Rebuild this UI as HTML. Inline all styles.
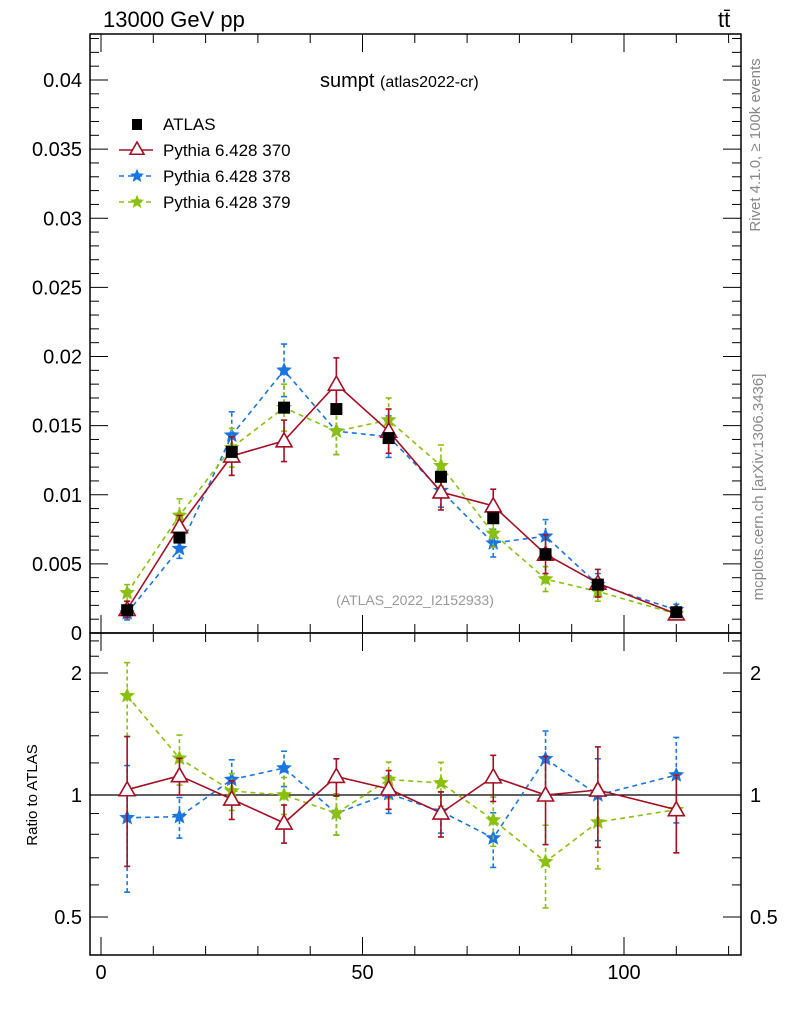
<!DOCTYPE html>
<html><head><meta charset="utf-8"><style>
body{margin:0;background:#fff}
svg text{font-family:"Liberation Sans",sans-serif}
</style></head><body>
<svg id="chart" width="786" height="1024" xmlns="http://www.w3.org/2000/svg">
<g id="axes"></g>
<g id="marks"></g>
<text x="103" y="27" font-size="22">13000 GeV pp</text>
<text x="718" y="27" font-size="22">tt̄</text>
<text x="320" y="87" font-size="20">sumpt <tspan font-size="16">(atlas2022-cr)</tspan></text>
<text x="415" y="605" font-size="14" fill="#999" text-anchor="middle">(ATLAS_2022_I2152933)</text>
<text transform="translate(760,145) rotate(-90)" font-size="15" fill="#888" text-anchor="middle">Rivet 4.1.0, ≥ 100k events</text>
<text transform="translate(763,487) rotate(-90)" font-size="15" fill="#888" text-anchor="middle">mcplots.cern.ch [arXiv:1306.3436]</text>
<text transform="translate(37,795) rotate(-90)" font-size="15" text-anchor="middle">Ratio to ATLAS</text>
<g id="legend"></g>
</svg>
<script>
const xs=[5,15,25,35,45,55,65,75,85,95,110];
const atlas=[0.00165,0.0069,0.0131,0.0163,0.0162,0.0141,0.0113,0.0083,0.0057,0.0035,0.0015];
const py370=[0.0017,0.0077,0.0128,0.0139,0.0180,0.0146,0.0102,0.0092,0.0057,0.0036,0.00138];
const py370err=[0.0006,0.0008,0.0014,0.0015,0.0019,0.0016,0.0013,0.0012,0.0014,0.0010,0.0003];
const py378=[0.00145,0.0061,0.0143,0.0190,0.0146,0.0142,0.0103,0.0065,0.0070,0.0035,0.00168];
const py378err=[0.0005,0.0007,0.0017,0.0019,0.0017,0.0015,0.0012,0.0010,0.0012,0.0008,0.0004];
const py379=[0.0029,0.0085,0.0134,0.0163,0.0146,0.0154,0.0121,0.0072,0.0039,0.0030,0.00138];
const py379err=[0.0006,0.0012,0.0014,0.0017,0.0017,0.0016,0.0015,0.0010,0.0009,0.0007,0.0003];
const yTicks=["0","0.005","0.01","0.015","0.02","0.025","0.03","0.035","0.04"];
const rTicks=["0.5","1","2"];
const xTicks=["0","50","100"];

const NS="http://www.w3.org/2000/svg";
const L=90,R=741,T=34,M=633,B=955;
const X=v=>101+v*5.23;
const Y=v=>633-v*13825;
const RY=v=>795-Math.log2(v)*122;
function mk(tag,attrs,parent){const e=document.createElementNS(NS,tag);for(const k in attrs)e.setAttribute(k,attrs[k]);parent.appendChild(e);return e;}
const ax=document.getElementById('axes'),mg=document.getElementById('marks'),lg=document.getElementById('legend');

let f1=mk('rect',{x:L,y:T,width:R-L,height:M-T,fill:'none',stroke:'#000','stroke-width':1.5},ax);


let f2=mk('rect',{x:L,y:M,width:R-L,height:B-M,fill:'none',stroke:'#000','stroke-width':1.5},ax);


for(let i=0;i<=43;i++){const v=i*0.001,y=Y(v);const maj=i%5==0;const l=maj?18:9;
 mk('line',{x1:L,x2:L+l,y1:y,y2:y,stroke:'#000'},ax);mk('line',{x1:R,x2:R-l,y1:y,y2:y,stroke:'#000'},ax);}
yTicks.forEach((t,i)=>{const tx=mk('text',{x:82,y:Y(i*0.005)+7,'font-size':20,'text-anchor':'end'},ax);tx.textContent=t;
 
 });
for(let v=-2;v<=122;v++){if(v%10)continue;const x=X(v);const maj=v%50==0;const l=maj?18:9;
 [[M,-1],[B,-1],[T,1],[M,1]].forEach(([y0,d])=>mk('line',{x1:x,x2:x,y1:y0,y2:y0+d*l,stroke:'#000'},ax));}
xTicks.forEach(t=>{const tx=mk('text',{x:X(+t),y:979,'font-size':20,'text-anchor':'middle'},ax);tx.textContent=t;
 
 });
[0.5,0.6,0.7,0.8,0.9,1,1.2,1.4,1.6,1.8,2,2.2,2.4].forEach(v=>{const y=RY(v);const maj=[0.5,1,2].includes(v);const l=maj?18:9;
 mk('line',{x1:L,x2:L+l,y1:y,y2:y,stroke:'#000'},ax);mk('line',{x1:R,x2:R-l,y1:y,y2:y,stroke:'#000'},ax);});
rTicks.forEach(t=>{[[82,'end'],[750,'start']].forEach(([x,a])=>{const tx=mk('text',{x:x,y:RY(+t)+7,'font-size':20,'text-anchor':a},ax);tx.textContent=t;
 
 });});
mk('line',{x1:L,x2:R,y1:RY(1),y2:RY(1),stroke:'#000','stroke-width':1.2},ax);

function star(cx,cy,r,col,parent){let p='';for(let i=0;i<10;i++){const a=-Math.PI/2+i*Math.PI/5,rr=i%2?r*0.45:r;p+=(cx+rr*Math.cos(a)).toFixed(1)+','+(cy+rr*Math.sin(a)).toFixed(1)+' ';}
 return mk('polygon',{points:p,fill:col,stroke:col},parent);}
function tri(cx,cy,r,col,parent){return mk('polygon',{points:`${cx},${cy-r} ${cx-r},${cy+r*0.75} ${cx+r},${cy+r*0.75}`,fill:'#fff',stroke:col,'stroke-width':1.6},parent);}

const series=[
 {name:'pythia-378',vals:py378,err:py378err,col:'#1a75e0',dash:'5,4',mark:'star'},
 {name:'pythia-379',vals:py379,err:py379err,col:'#8ac10e',dash:'5,4',mark:'star'},
 {name:'pythia-370',vals:py370,err:py370err,col:'#a50f24',dash:'',mark:'tri'}];
series.forEach(s=>{
 [[Y,v=>v,(v,i)=>s.err[i]],[RY,(v,i)=>v/atlas[i],(v,i)=>s.err[i]/atlas[i]]].forEach(([F,val,er],pi)=>{
  const g=mk('g',{},mg);
  
  
  const pts=s.vals.map((v,i)=>X(xs[i])+','+F(val(v,i)).toFixed(1)).join(' ');
  const ln=mk('polyline',{points:pts,fill:'none',stroke:s.col,'stroke-width':1.6,'stroke-dasharray':s.dash},g);
  
  
  s.vals.forEach((v,i)=>{const x=X(xs[i]);const c=val(v,i),e=er(v,i);
   const y1=F(Math.max(c-e,0.0001)),y2=F(c+e);
   mk('line',{x1:x,x2:x,y1:y1,y2:y2,stroke:s.col,'stroke-width':1.6,'stroke-dasharray':s.dash?'4,3':''},g);
   mk('line',{x1:x-3,x2:x+3,y1:y1,y2:y1,stroke:s.col,'stroke-width':1.6},g);
   mk('line',{x1:x-3,x2:x+3,y1:y2,y2:y2,stroke:s.col,'stroke-width':1.6},g);
   const m=s.mark=='star'?star(x,F(c),7,s.col,g):tri(x,F(c),8,s.col,g);
   
   
  });
 });
});
atlas.forEach((v,i)=>{const r=mk('rect',{x:X(xs[i])-6,y:Y(v)-6,width:12,height:12,fill:'#000'},mg);
 
 });

const ent=[['ATLAS',null],['Pythia 6.428 370',series[2]],['Pythia 6.428 378',series[0]],['Pythia 6.428 379',series[1]]];
ent.forEach(([t,s],i)=>{const y=124+i*26;const g=mk('g',{},lg);
 
 
 if(!s){mk('rect',{x:132,y:y-5,width:10,height:11,fill:'#000'},g);}
 else{mk('line',{x1:119,x2:153,y1:y,y2:y,stroke:s.col,'stroke-width':1.5,'stroke-dasharray':s.dash},g);
  if(s.mark=='star')star(137,y,6,s.col,g);else tri(137,y-1,7,s.col,g);}
 const tx=mk('text',{x:163,y:y+6,'font-size':17},g);tx.textContent=t;});
</script>
</body></html>
